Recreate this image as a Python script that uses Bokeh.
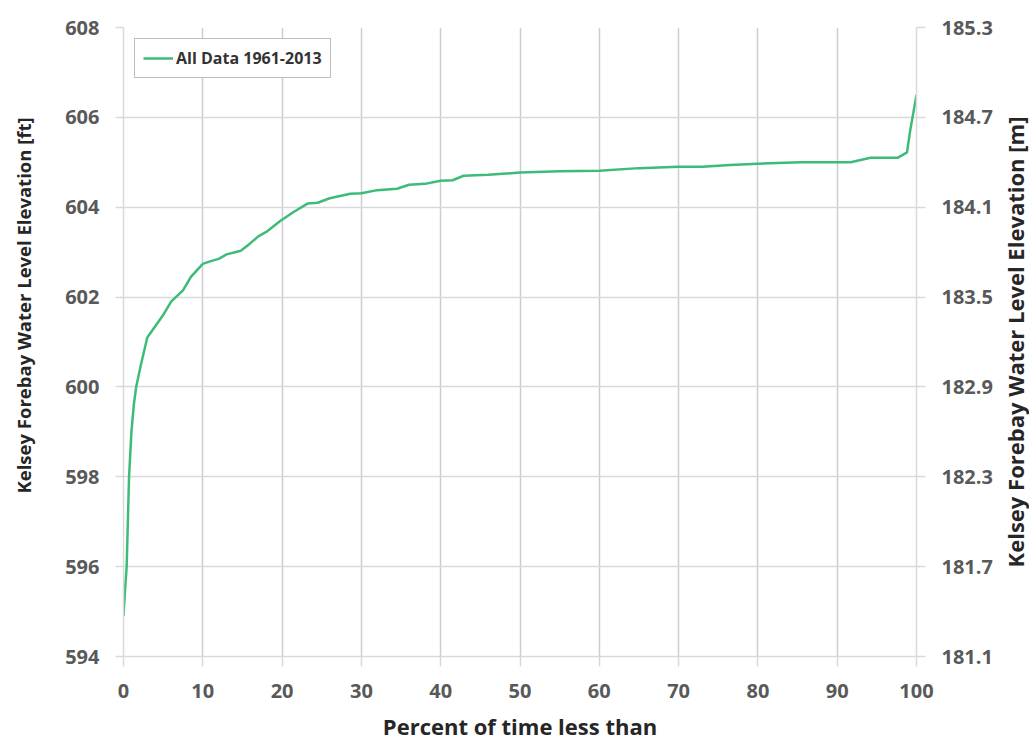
import math
from bokeh.plotting import figure
from bokeh.layouts import row
from bokeh.models import Range1d, LinearAxis, FixedTicker, PrintfTickFormatter, Legend, LegendItem, Title
from bokeh.embed import file_html
from bokeh.resources import INLINE

# ---- data ----
pct = [0, 0.2, 0.4, 0.7, 1.0, 1.3, 1.6, 2.2, 3.0, 4.0, 5.0, 6.0, 6.6, 7.5, 8.5, 10,
       11, 12, 13, 14.8, 16, 17, 18, 19.8, 21.5, 23.2, 24.5, 26, 28.6, 30, 32, 34.5,
       36, 38, 40, 41.5, 42.9, 46, 50, 55, 60, 65, 70, 73, 76.5, 80, 85.4, 91.7,
       94.2, 97.6, 98.8, 99.2, 99.7, 100]
elev_ft = [594.9, 595.5, 596.0, 598.0, 599.0, 599.6, 600.0, 600.5, 601.1, 601.35, 601.6, 601.9, 602.0, 602.15, 602.45, 602.74,
           602.8, 602.85, 602.95, 603.03, 603.2, 603.35, 603.45, 603.7, 603.9, 604.08, 604.1, 604.2, 604.3, 604.31, 604.38, 604.41,
           604.5, 604.52, 604.59, 604.6, 604.7, 604.72, 604.77, 604.8, 604.81, 604.87, 604.9, 604.9, 604.94, 604.97, 605.0, 605.0,
           605.1, 605.1, 605.22, 605.7, 606.2, 606.5]
series_label = "All Data 1961-2013"
x_title = "Percent of time less than"
y_title_ft = "Kelsey Forebay Water Level Elevation [ft]"
y_title_m = "Kelsey Forebay Water Level Elevation [m]"
x_ticks = [0, 10, 20, 30, 40, 50, 60, 70, 80, 90, 100]
ft_ticks = [594, 596, 598, 600, 602, 604, 606, 608]
FT_TO_M = 0.3048

FONT = "Open Sans"
GRID_H = "#d9d9d9"
GRID_V = "#cdcdcd"
TICK_COLOR = "#595959"
TITLE_COLOR = "#262626"
H = 754
TOP, BOTTOM = 27, 98
LEFT_W, RIGHT_W = 37, 28
MAIN_W = 1029 - LEFT_W - RIGHT_W

p = figure(width=MAIN_W, height=H, output_backend="svg", toolbar_location=None,
           x_range=Range1d(0, 100), y_range=Range1d(ft_ticks[0], ft_ticks[-1]),
           min_border_left=123 - LEFT_W, min_border_right=MAIN_W - (916 - LEFT_W),
           min_border_top=TOP, min_border_bottom=BOTTOM,
           background_fill_color="white", border_fill_color="white")
p.outline_line_color = None

r = p.line(pct, elev_ft, line_color="#3dbb78", line_width=2.5)

# grids
p.xgrid.grid_line_color = GRID_V
p.xgrid.grid_line_width = 1.5
p.ygrid.grid_line_color = GRID_H
p.ygrid.grid_line_width = 1.5

# x axis
xa = p.xaxis[0]
xa.ticker = FixedTicker(ticks=x_ticks)
xa.axis_label = x_title
xa.major_tick_out = 10
xa.major_tick_in = 0
xa.minor_tick_line_color = None
xa.major_label_standoff = 17
xa.axis_label_standoff = 10

# left axis
ya = p.yaxis[0]
ya.ticker = FixedTicker(ticks=ft_ticks)
ya.major_tick_out = 8
ya.major_tick_in = 0
ya.minor_tick_line_color = None
ya.major_label_standoff = 16

# right axis (metres)
p.extra_y_ranges = {"m": Range1d(ft_ticks[0] * FT_TO_M, ft_ticks[-1] * FT_TO_M)}
ra = LinearAxis(y_range_name="m", ticker=FixedTicker(ticks=[t * FT_TO_M for t in ft_ticks]),
                formatter=PrintfTickFormatter(format="%.1f"))
ra.major_tick_out = 9
ra.major_tick_in = 0
ra.minor_tick_line_color = None
ra.major_label_standoff = 16
p.add_layout(ra, "right")

for ax in (xa, ya, ra):
    ax.axis_line_color = GRID_H
    ax.axis_line_width = 1.5
    ax.major_tick_line_color = GRID_H
    ax.major_tick_line_width = 1.5
    ax.major_label_text_font = FONT
    ax.major_label_text_font_size = "20px"
    ax.major_label_text_color = TICK_COLOR
    ax.major_label_text_font_style = "bold"
    ax.axis_label_text_font = FONT
    ax.axis_label_text_font_style = "bold"
    ax.axis_label_text_color = TITLE_COLOR

xa.axis_label_text_font_size = "22px"

legend = Legend(items=[LegendItem(label=series_label, renderers=[r])], location="top_left")
legend.margin = 11
legend.padding = 8
legend.spacing = 0
legend.glyph_width = 30
legend.glyph_height = 22
legend.label_height = 22
legend.label_standoff = 3
legend.label_text_font = FONT
legend.label_text_font_size = "16px"
legend.label_text_font_style = "bold"
legend.label_text_color = "#333333"
legend.border_line_color = "#7f7f7f"
legend.border_line_width = 1.5
legend.background_fill_color = "white"
legend.background_fill_alpha = 1.0
p.add_layout(legend)


def strip(width):
    s = figure(width=width, height=H, output_backend="svg", toolbar_location=None,
               x_range=Range1d(0, 1), y_range=Range1d(ft_ticks[0], ft_ticks[-1]),
               x_axis_type=None, y_axis_type=None,
               min_border_left=width - 1, min_border_right=0,
               min_border_top=TOP, min_border_bottom=BOTTOM,
               background_fill_color="white", border_fill_color="white")
    s.outline_line_color = None
    s.xgrid.visible = False
    s.ygrid.visible = False
    return s


# left strip: title reading bottom-to-top, shifted upward like the reference
left_strip = strip(LEFT_W)
left_strip.add_layout(Title(text=y_title_ft, align="left", offset=163, vertical_align="middle",
                            standoff=0, text_font=FONT, text_font_size="18.5px",
                            text_font_style="bold", text_color=TITLE_COLOR), "left")

# right strip: an empty left axis whose label reads bottom-to-top
right_strip = strip(RIGHT_W)
tax = LinearAxis(ticker=FixedTicker(ticks=[]), axis_label=y_title_m)
tax.axis_line_color = None
tax.major_tick_line_color = None
tax.minor_tick_line_color = None
tax.major_tick_out = 0
tax.major_tick_in = 0
tax.major_label_standoff = 0
tax.major_label_text_font_size = "1px"
tax.axis_label_text_font = FONT
tax.axis_label_text_font_size = "22px"
tax.axis_label_text_font_style = "bold"
tax.axis_label_text_color = TITLE_COLOR
tax.axis_label_standoff = 0
right_strip.add_layout(tax, "left")

layout = row(left_strip, p, right_strip, spacing=0)

open("out.html", "w").write(file_html(layout, INLINE))
